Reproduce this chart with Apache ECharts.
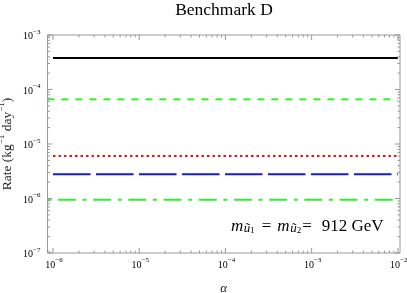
<!DOCTYPE html>
<html><head><meta charset="utf-8">
<script src="https://cdn.jsdelivr.net/npm/echarts@6/dist/echarts.min.js"></script>
<style>html,body{margin:0;padding:0;background:#fff}#c{width:407px;height:293px}</style>
</head><body><div id="c"></div>
<script>
const titleText = 'Benchmark D';
const xAxisName = 'α';
const seriesNames = ['solid black', 'green dashed', 'red dotted', 'blue long-dashed', 'green dot-dashed'];
const seriesColors = ['#000000', '#33ee33', '#ee1111', '#1a1ad9', '#33ee33'];
const alphaStart = [1e-6, 8.6e-7, 1e-6, 1e-6, 8.6e-7];
const alphaEnd = [1e-2, 1e-2, 1e-2, 1e-2, 1e-2];
const rates = [3.8e-4, 6.6e-5, 6.0e-6, 2.8e-6, 9.5e-7];
const xTickExponents = [-6, -5, -4, -3, -2];
const yTickExponents = [-7, -6, -5, -4, -3];
const annotation = '912 GeV';

const FONT = '"Liberation Serif", "DejaVu Serif", serif';
const xMin = Math.pow(10, -6.064), xMax = Math.pow(10, -1.975);
const yMin = 1e-7, yMax = 1e-3;

const dashStyles = [
  {type: 'solid'},
  {type: [7, 7], dashOffset: 0},
  {type: [2.5, 3]},
  {type: [37.5, 5.5]},
  {type: [18, 6.6, 4, 6.6], dashOffset: 24.6}
];

// tick descriptors: [x, y, kind, exponent]
const ticks = [];
xTickExponents.forEach(e => {
  const v = Math.pow(10, e);
  ticks.push([v, yMin, 0, e]); ticks.push([v, yMax, 2, e]);
  if (e < -2) for (let m = 2; m <= 9; m++) { const w = m * v; ticks.push([w, yMin, 1, 0]); ticks.push([w, yMax, 3, 0]); }
});
ticks.push([9e-7, yMin, 1, 0]); ticks.push([9e-7, yMax, 3, 0]);
yTickExponents.forEach(e => {
  const v = Math.pow(10, e);
  ticks.push([xMin, v, 4, e]); ticks.push([xMax, v, 6, e]);
  if (e < -3) for (let m = 2; m <= 9; m++) { const w = m * v; ticks.push([xMin, w, 5, 0]); ticks.push([xMax, w, 7, 0]); }
});

const labRich = {
  b: {fontFamily: FONT, fontSize: 10, color: '#444', lineHeight: 13, verticalAlign: 'bottom'},
  s: {fontFamily: FONT, fontSize: 7, color: '#444', lineHeight: 13, verticalAlign: 'top', padding: [0,0,5,0]}
};

function renderTick(params, api) {
  const p = api.coord([api.value(0), api.value(1)]);
  const kind = api.value(2), e = api.value(3);
  const major = kind % 2 === 0;
  const L = major ? 5 : 2.5;
  let shape;
  const side = Math.floor(kind / 2);
  if (side === 0) shape = {x1: p[0], y1: p[1], x2: p[0], y2: p[1] - L};
  else if (side === 1) shape = {x1: p[0], y1: p[1], x2: p[0], y2: p[1] + L};
  else if (side === 2) shape = {x1: p[0], y1: p[1], x2: p[0] + L, y2: p[1]};
  else shape = {x1: p[0], y1: p[1], x2: p[0] - L, y2: p[1]};
  const children = [{type: 'line', shape, style: {stroke: '#999', lineWidth: 1}}];
  if (kind === 0) {
    children.push({type: 'text', x: p[0] + 1, y: p[1] + 4, style: {text: '{b|10}{s|−' + (-e) + '}', rich: labRich, align: 'center', verticalAlign: 'top'}});
  } else if (kind === 4) {
    children.push({type: 'text', x: p[0] - 7, y: p[1], style: {text: '{b|10}{s|−' + (-e) + '}', rich: labRich, align: 'right', verticalAlign: 'middle'}});
  }
  return {type: 'group', children};
}

const series = rates.map((r, i) => ({
  name: seriesNames[i], type: 'line', symbol: 'none', silent: true,
  data: [[alphaStart[i], r], [alphaEnd[i], r]],
  lineStyle: Object.assign({color: seriesColors[i], width: 2}, dashStyles[i]),
  clip: true, z: 3
}));
series.push({type: 'custom', renderItem: renderTick, data: ticks, clip: false, silent: true, z: 5, encode: {x: 0, y: 1}});

const chart = echarts.init(document.getElementById('c'), null, {renderer: 'canvas'});
chart.setOption({
  animation: false,
  backgroundColor: '#fff',
  title: {text: titleText, left: 224, top: 1, padding: 0, textAlign: 'center', textStyle: {fontFamily: FONT, fontSize: 17.5, fontWeight: 'normal', color: '#000'}},
  grid: {left: 47.5, right: 7, top: 35, bottom: 40, show: true, borderColor: '#999', borderWidth: 1, backgroundColor: 'transparent', containLabel: false, outerBoundsMode: 'none'},
  xAxis: {type: 'log', min: xMin, max: xMax, axisLine: {show: false}, axisTick: {show: false}, axisLabel: {show: false}, splitLine: {show: false},
    name: xAxisName, nameLocation: 'middle', nameGap: 29, nameTextStyle: {fontFamily: FONT, fontSize: 13, fontStyle: 'italic', color: '#222'}},
  yAxis: {type: 'log', min: yMin, max: yMax, axisLine: {show: false}, axisTick: {show: false}, axisLabel: {show: false}, splitLine: {show: false},
    name: '{n|Rate (kg}{s|−1}{n| day}{s|−1}{n|)}', nameLocation: 'middle', nameGap: 33, nameRotate: 90,
    nameTextStyle: {rich: {
      n: {fontFamily: FONT, fontSize: 13.5, color: '#222', lineHeight: 17, verticalAlign: 'bottom'},
      s: {fontFamily: FONT, fontSize: 9, color: '#222', lineHeight: 17, verticalAlign: 'top', padding: [0,0,6,0]}
    }}},
  graphic: [{type: 'text', left: 231, top: 218, silent: true, style: {
    text: '{m|m}{sub|ũ}{sub2|1}{eq|=}{m|m}{sub|ũ}{sub2|2}{eq2|=}{n|' + annotation + '}',
    rich: {
      m: {fontFamily: FONT, fontSize: 17, fontStyle: 'italic', color: '#000', lineHeight: 22, verticalAlign: 'bottom'},
      n: {fontFamily: FONT, fontSize: 17, color: '#000', lineHeight: 22, verticalAlign: 'bottom', padding: [0,0,0,10]},
      eq: {fontFamily: FONT, fontSize: 17, color: '#000', lineHeight: 22, verticalAlign: 'bottom', padding: [0,6,0,7]},
      eq2: {fontFamily: FONT, fontSize: 17, color: '#000', lineHeight: 22, verticalAlign: 'bottom', padding: [0,0,0,1]},
      sub: {fontFamily: FONT, fontSize: 13, fontStyle: 'italic', color: '#000', lineHeight: 22, verticalAlign: 'bottom', padding: [0,0,0,0.5]},
      sub2: {fontFamily: FONT, fontSize: 9, color: '#000', lineHeight: 20, verticalAlign: 'bottom'}
    }}}],
  series
});
</script></body></html>
